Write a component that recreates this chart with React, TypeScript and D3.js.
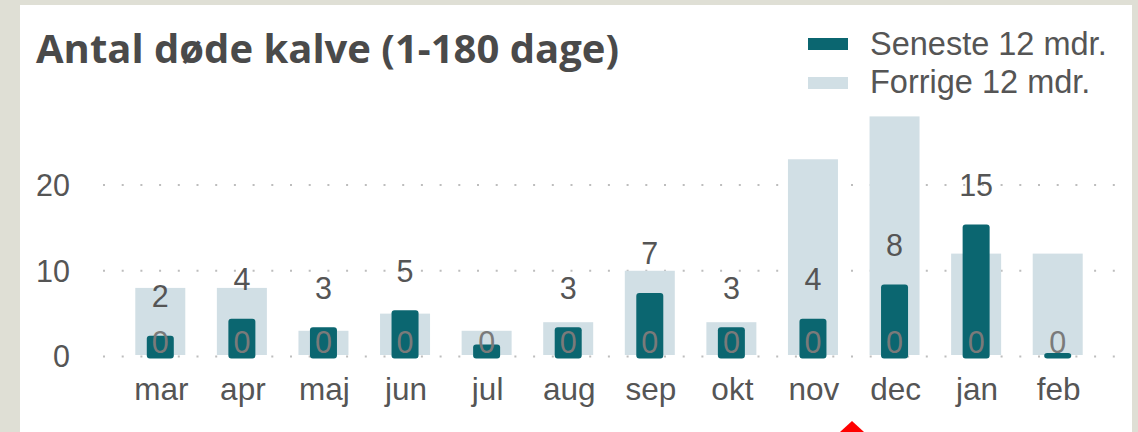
import React from 'react';
import * as d3 from 'd3';

// chart data
const months = ['mar', 'apr', 'maj', 'jun', 'jul', 'aug', 'sep', 'okt', 'nov', 'dec', 'jan', 'feb'];
const seneste = [2, 4, 3, 5, 1, 3, 7, 3, 4, 8, 15, 0];
const forrige = [8, 8, 3, 5, 3, 4, 10, 4, 23, 28, 12, 12];
const senesteLabels = ['2', '4', '3', '5', '', '3', '7', '3', '4', '8', '15', ''];
const baseLabels = ['0', '0', '0', '0', '0', '0', '0', '0', '0', '0', '0', '0'];
const yTicks = [0, 10, 20];
const legendItems = ['Seneste 12 mdr.', 'Forrige 12 mdr.'];

const W = 1138;
const H = 432;
const DARK = '#0b6670';
const LIGHT = '#d1dfe5';
const TEXT = '#555555';
const FONT = '"Liberation Sans", Arial, sans-serif';

export default function App() {
  // scales
  const x = d3.scaleBand<string>().domain(months).range([119.5, 1098.5]);
  const y = d3.scaleLinear().domain([0, 20]).range([356.5, 185]);
  const cx = (m: string) => (x(m) ?? 0) + x.bandwidth() / 2;

  const gridLeft = 103;
  const gridRight = 1118;

  return (
    <svg
      width={W}
      height={H}
      style={{ position: 'absolute', left: 0, top: 0, display: 'block' }}
      fontFamily={FONT}
    >
      {/* page background + card */}
      <rect x={0} y={0} width={W} height={H} fill="#dfdfd5" />
      <rect x={20} y={5} width={1112} height={H - 5} fill="#ffffff" />

      {/* title */}
      <text x={36} y={63} fontFamily='"Open Sans", sans-serif' fontWeight={700} fontSize={40} fill="#4a4a4a">
        Antal døde kalve (1-180 dage)
      </text>

      {/* legend */}
      {legendItems.map((label, i) => (
        <g key={label}>
          <rect x={808} y={38 + i * 39} width={40} height={12} fill={i === 0 ? DARK : LIGHT} />
          <text x={870} y={55 + i * 38} fontSize={32.5} fill={TEXT}>
            {label}
          </text>
        </g>
      ))}

      {/* dotted grid lines */}
      {yTicks.map((t) => (
        <g key={t}>
          <line
            x1={gridLeft}
            x2={gridRight}
            y1={y(t)}
            y2={y(t)}
            stroke="#bdbdbd"
            strokeWidth={2}
            strokeDasharray="2 16.7"
          />
          <text x={70} y={y(t)} dy="0.36em" textAnchor="end" fontSize={30.5} fill={TEXT}>
            {t}
          </text>
        </g>
      ))}

      {/* previous 12 months, wide light bars */}
      {months.map((m, i) => (
        <rect
          key={'f' + m}
          x={cx(m) - 25}
          y={y(forrige[i])}
          width={50}
          height={y(0) - y(forrige[i]) - 1.5}
          fill={LIGHT}
        />
      ))}

      {/* latest 12 months, narrow dark bars */}
      {months.map((m, i) => (
        <rect
          key={'s' + m}
          x={cx(m) - 13.5}
          y={y(seneste[i]) - 3.5}
          width={27}
          height={y(0) - y(seneste[i]) + 5.5}
          rx={3}
          fill={DARK}
        />
      ))}

      {/* value labels above the dark bars */}
      {months.map((m, i) => (
        <text key={'l' + m} x={cx(m)} y={y(seneste[i]) - 32} textAnchor="middle" fontSize={30.5} fill={TEXT}>
          {senesteLabels[i]}
        </text>
      ))}

      {/* zero labels at the bottom */}
      {months.map((m, i) => (
        <text key={'z' + m} x={cx(m)} y={352.5} textAnchor="middle" fontSize={30.5} fill="#7a7a7a">
          {baseLabels[i]}
        </text>
      ))}

      {/* month axis */}
      {months.map((m) => (
        <text key={'m' + m} x={cx(m) + 1} y={400} textAnchor="middle" fontSize={31.5} fill={TEXT}>
          {m}
        </text>
      ))}

      {/* small red pointer at the bottom */}
      <polygon points="852,421 840,432 864,432" fill="#ff0000" />
    </svg>
  );
}
